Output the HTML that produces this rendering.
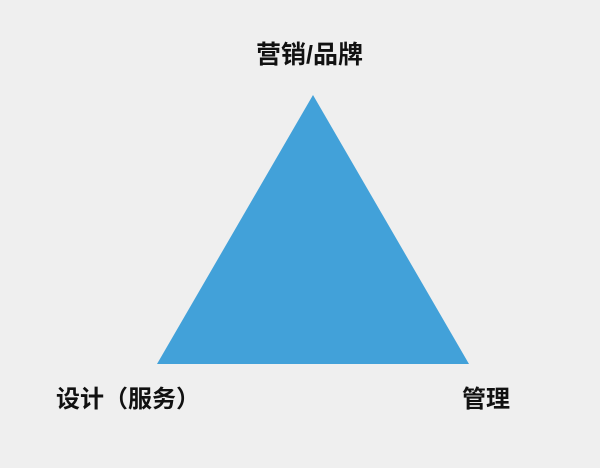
<!DOCTYPE html>
<html><head><meta charset="utf-8"><style>
html,body{margin:0;padding:0;background:#efefef;}
body{width:600px;height:468px;position:relative;overflow:hidden;font-family:"Liberation Sans","Noto Sans CJK SC",sans-serif;color:#111;}
.t{position:absolute;font-weight:700;white-space:nowrap;line-height:1;}
</style></head><body>
<svg width="600" height="468" style="position:absolute;left:0;top:0">
<polygon points="313,95 157,364 469,364" fill="#42a1d9"/>
</svg>
<div class="t" style="left:256px;top:43px;font-size:25px;">营销/品牌</div>
<div class="t" style="left:56px;top:388px;font-size:24px;">设计（服务）</div>
<div class="t" style="left:462px;top:388px;font-size:24px;">管理</div>
</body></html>
